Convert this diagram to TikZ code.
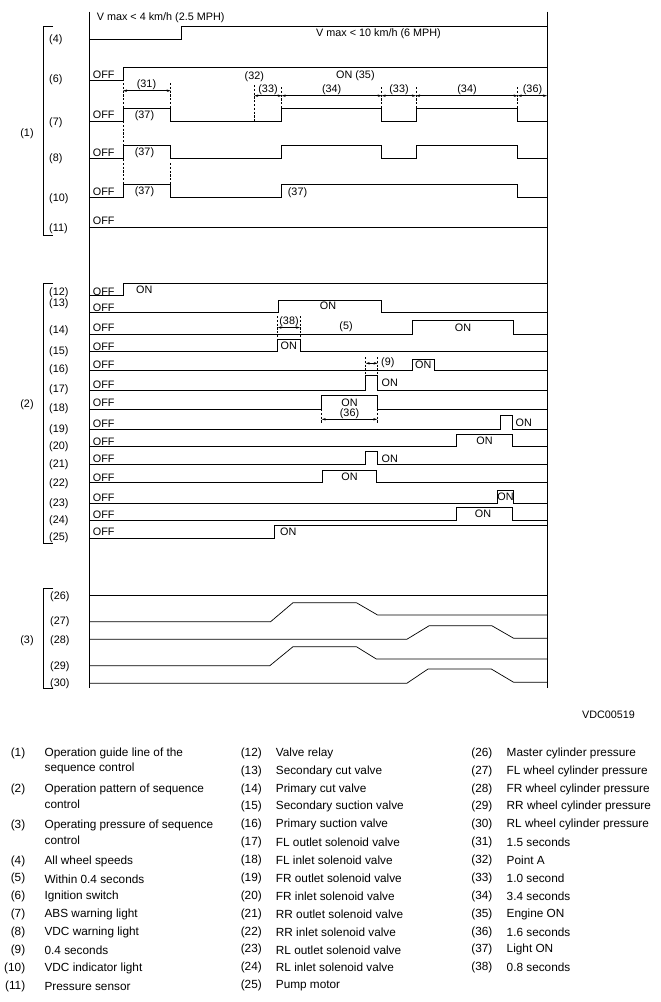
\documentclass[tikz,border=0pt]{standalone}
\usepackage{fontspec}
\setmainfont{Liberation Sans}
\usetikzlibrary{arrows.meta}
\tikzset{
wave/.style={line width=0.7pt, line join=miter}, % signal traces
frame/.style={line width=0.9pt}, % time borders and brackets
guide/.style={dash pattern=on 2.2pt off 1.6pt, line width=0.6pt}, % dashed timing marks
dim/.style={<->, >={Stealth[length=4pt,width=2.4pt]}, line width=0.5pt}, % durations
lbl/.style={font=\fontsize{10.8}{12}\selectfont, inner sep=0pt}, % chart texts
key/.style={font=\fontsize{11.8}{14}\selectfont, inner sep=0pt}, % legend texts
}

\begin{document}
\begin{tikzpicture}[x=1pt, y=-1pt]
\useasboundingbox (0,0) rectangle (661,1002);

% time borders
\draw[frame] (89,11.7) -- (89,688.3);
\draw[frame] (547,11.7) -- (547,688.3);

% group brackets
\draw[frame] (53,26.7) -| (43.3,235) -- (53,235);
\draw[frame] (53,283.3) -| (43.3,543.3) -- (53,543.3);
\draw[frame] (53,588.3) -| (43.3,688.3) -- (53,688.3);
\node[lbl] (g1) at (27,133.3) {(1)};
\node[lbl] (g2) at (27,405) {(2)};
\node[lbl] (g3) at (27,641) {(3)};

% row numbers
\foreach \r/\y in {4/40,6/80,7/123,8/159,10/199,11/229,
  12/292.3,13/304,14/330.7,15/351.7,16/370,17/389.3,18/408.3,
  19/429.3,20/446.7,21/465,22/483.3,23/503.3,24/520.7,25/537.3}
  \node[lbl, anchor=west] (r\r) at (49,\y) {(\r)};
\foreach \r/\y in {26/596.7,27/621.7,28/641,29/666.7,30/683.3}
  \node[lbl, anchor=west] (r\r) at (50,\y) {(\r)};

% OFF marks
\foreach \r/\y in {6/75,7/115,8/152.7,10/191.7,11/221,
  12/291.7,13/307.3,14/327.3,15/346.7,16/365,17/385,18/402.7,
  19/423.3,20/441.7,21/458.3,22/477.3,23/497.3,24/514.3,25/531.7}
  \node[lbl, anchor=west] (off\r) at (92.7,\y) {OFF};

% (4) all wheel speeds
\draw[wave] (89,39) -- (181,39) -- (181,26) -- (547,26);
\node[lbl, anchor=west] (vlow) at (96.7,18) {V max < 4 km/h (2.5 MPH)};
\node[lbl, anchor=west] (vhigh) at (316,33.3) {V max < 10 km/h (6 MPH)};

% (6) ignition switch
\draw[wave] (89,80) -- (123,80) -- (123,67.7) -- (547,67.7);
\node[lbl, anchor=west] (on35) at (336,76) {ON (35)};

% (7) (8) (10) (11) lights and sensor
\draw[wave] (89,121.7) -- (123,121.7) -- (123,108.3) -- (170.7,108.3) -- (170.7,121.7)
  -- (281.7,121.7) -- (281.7,108.3) -- (381.7,108.3) -- (381.7,121.7) -- (416,121.7)
  -- (416,108.3) -- (517.7,108.3) -- (517.7,121.7) -- (547,121.7);
\draw[wave] (89,158.3) -- (123,158.3) -- (123,145.7) -- (170.7,145.7) -- (170.7,158.3)
  -- (281.7,158.3) -- (281.7,145.7) -- (381.7,145.7) -- (381.7,158.3) -- (416,158.3)
  -- (416,145.7) -- (517.7,145.7) -- (517.7,158.3) -- (547,158.3);
\draw[wave] (89,197.3) -- (123,197.3) -- (123,184.3) -- (170.7,184.3) -- (170.7,197.3)
  -- (281.7,197.3) -- (281.7,184.3) -- (517.7,184.3) -- (517.7,197.3) -- (547,197.3);
\draw[wave] (89,227.7) -- (547,227.7);
\node[lbl] (l7) at (144.5,116) {(37)};
\node[lbl] (l8) at (144.5,152.7) {(37)};
\node[lbl] (l10) at (144.5,192) {(37)};
\node[lbl] (l10b) at (297.5,192.3) {(37)};

% timing marks
\draw[guide] (123,83) -- (123,184.3);
\draw[guide] (170.7,83) -- (170.7,108.3);
\draw[guide] (170.7,163) -- (170.7,184.3);
\draw[guide] (254.3,85) -- (254.3,121.7);
\foreach \x in {281.7,381.7,416,517.7}
  \draw[guide] (\x,87) -- (\x,108.3);
\node[lbl] (pa) at (254.3,77) {(32)};

\coordinate (d0) at (123,90.7);
\coordinate (d1) at (170.7,90.7);
\draw[dim] (d0) -- (d1);
\node[lbl] (t31) at (146.5,85) {(31)};
\coordinate (e0) at (254.3,95.7);
\coordinate (e1) at (281.7,95.7);
\coordinate (e2) at (381.7,95.7);
\coordinate (e3) at (416,95.7);
\coordinate (e4) at (517.7,95.7);
\coordinate (e5) at (547,95.7);
\draw[dim] (e0) -- (e1);
\draw[dim] (e1) -- (e2);
\draw[dim] (e2) -- (e3);
\draw[dim] (e3) -- (e4);
\draw[dim] (e4) -- (e5);
\node[lbl] (t33) at (268,89.3) {(33)};
\node[lbl] (t34) at (331.7,89.3) {(34)};
\node[lbl] (t33b) at (399,89.3) {(33)};
\node[lbl] (t34b) at (467,89.3) {(34)};
\node[lbl] (t36) at (532.5,89.3) {(36)};

% (12)-(25) valves and motor
\draw[wave] (89,295.7) -- (123,295.7) -- (123,283.5) -- (547,283.5);
\node[lbl, anchor=west] (on12) at (136,290) {ON};
\draw[wave] (89,312.3) -- (278.3,312.3) -- (278.3,300) -- (381,300) -- (381,312.3) -- (547,312.3);
\node[lbl] (on13) at (328,306) {ON};
\draw[wave] (89,334) -- (412.3,334) -- (412.3,320.7) -- (513.3,320.7) -- (513.3,334) -- (547,334);
\node[lbl] (w5) at (346,326.7) {(5)};
\node[lbl] (on14) at (463,327.3) {ON};
\draw[guide] (277.7,316) -- (277.7,339);
\draw[guide] (300,316) -- (300,339);
\coordinate (f0) at (277.7,327.5);
\coordinate (f1) at (300,327.5);
\draw[dim] (f0) -- (f1);
\node[lbl] (t38) at (289,321.2) {(38)};
\draw[wave] (89,351.7) -- (277.7,351.7) -- (277.7,339) -- (300,339) -- (300,351.7) -- (547,351.7);
\node[lbl] (on15) at (288.8,346) {ON};
\draw[wave] (89,370.7) -- (412.3,370.7) -- (412.3,359.3) -- (434.3,359.3) -- (434.3,370.7) -- (547,370.7);
\node[lbl] (on16) at (423.3,365) {ON};
\draw[guide] (365.7,357) -- (365.7,375.3);
\draw[guide] (377.7,357) -- (377.7,375.3);
\coordinate (h0) at (365.7,363.3);
\coordinate (h1) at (377.7,363.3);
\draw[dim] (h0) -- (h1);
\node[lbl, anchor=west] (t9) at (381,362.7) {(9)};
\draw[wave] (89,390) -- (365.7,390) -- (365.7,375.3) -- (377.7,375.3) -- (377.7,390) -- (547,390);
\node[lbl, anchor=west] (on17) at (381.5,383) {ON};
\draw[wave] (89,409) -- (321.7,409) -- (321.7,395.7) -- (377.3,395.7) -- (377.3,409) -- (547,409);
\node[lbl] (on18) at (349.5,402.5) {ON};
\draw[guide] (321.7,409) -- (321.7,423);
\draw[guide] (377.3,409) -- (377.3,423);
\coordinate (m0) at (321.7,419.3);
\coordinate (m1) at (377.3,419.3);
\draw[dim] (m0) -- (m1);
\node[lbl] (t36b) at (349.5,413.3) {(36)};
\draw[wave] (89,429.3) -- (500.7,429.3) -- (500.7,415.7) -- (512.3,415.7) -- (512.3,429.3) -- (547,429.3);
\node[lbl, anchor=west] (on19) at (515.5,422.5) {ON};
\draw[wave] (89,446.7) -- (456,446.7) -- (456,434) -- (512.3,434) -- (512.3,446.7) -- (547,446.7);
\node[lbl] (on20) at (484.5,441) {ON};
\draw[wave] (89,464.3) -- (365.7,464.3) -- (365.7,451.7) -- (377,451.7) -- (377,464.3) -- (547,464.3);
\node[lbl, anchor=west] (on21) at (381.5,458.3) {ON};
\draw[wave] (89,482.5) -- (322.3,482.5) -- (322.3,470) -- (376.7,470) -- (376.7,482.5) -- (547,482.5);
\node[lbl] (on22) at (349.5,476.7) {ON};
\draw[wave] (89,503) -- (497.3,503) -- (497.3,490.3) -- (513.3,490.3) -- (513.3,503) -- (547,503);
\node[lbl] (on23) at (505.5,497) {ON};
\draw[wave] (89,520.7) -- (456,520.7) -- (456,507.3) -- (512.3,507.3) -- (512.3,520.7) -- (547,520.7);
\node[lbl] (on24) at (483,514) {ON};
\draw[wave] (89,538.3) -- (274.3,538.3) -- (274.3,525) -- (547,525);
\node[lbl, anchor=west] (on25) at (280,531.7) {ON};

% (26)-(30) pressures
\draw[wave] (89,595) -- (547,595);
\draw[wave] (89,621.7) -- (270.6,621.7) -- (293,602.7) -- (356.4,602.7) -- (377.6,615) -- (547,615);
\draw[wave] (89,639.3) -- (406.8,639.3) -- (429.2,625.7) -- (491.8,625.7) -- (513.7,638.3) -- (547,638.3);
\draw[wave] (89,665.7) -- (269.8,665.7) -- (293,646.7) -- (356.4,646.7) -- (376.3,659) -- (547,659);
\draw[wave] (89,683.3) -- (406.8,683.3) -- (428,669) -- (491.3,669) -- (513.7,682.3) -- (547,682.3);

\node[lbl] (code) at (608.5,715) {VDC00519};

% legend
\foreach \n/\y/\txt in {1/753.3/Operation guide line of the,
  2/789.3/Operation pattern of sequence,
  3/825.3/Operating pressure of sequence,
  4/861/All wheel speeds, 5/878.9/Within 0.4 seconds,
  6/896.7/Ignition switch, 7/914.6/ABS warning light,
  8/932.5/VDC warning light, 9/950.3/0.4 seconds,
  10/968.2/VDC indicator light, 11/986/Pressure sensor}
{
  \node[key, anchor=east] (kn\n) at (25.4,\y) {(\n)};
  \node[key, anchor=west] (k\n) at (44.4,\y) {\txt};
}
\node[key, anchor=west] (k1b) at (44.4,768.3) {sequence control};
\node[key, anchor=west] (k2b) at (44.4,804.3) {control};
\node[key, anchor=west] (k3b) at (44.4,840) {control};

\foreach \n/\txt [evaluate=\n as \y using 753.3+17.87*(\n-12)] in
  {12/Valve relay, 13/Secondary cut valve, 14/Primary cut valve,
  15/Secondary suction valve, 16/Primary suction valve,
  17/FL outlet solenoid valve, 18/FL inlet solenoid valve,
  19/FR outlet solenoid valve, 20/FR inlet solenoid valve,
  21/RR outlet solenoid valve, 22/RR inlet solenoid valve,
  23/RL outlet solenoid valve, 24/RL inlet solenoid valve, 25/Pump motor}
{
  \node[key, anchor=east] (kn\n) at (262,\y) {(\n)};
  \node[key, anchor=west] (k\n) at (275.7,\y) {\txt};
}

\foreach \n/\txt [evaluate=\n as \y using 753.3+17.87*(\n-26)] in
  {26/Master cylinder pressure, 27/FL wheel cylinder pressure,
  28/FR wheel cylinder pressure, 29/RR wheel cylinder pressure,
  30/RL wheel cylinder pressure, 31/1.5 seconds, 32/Point A,
  33/1.0 second, 34/3.4 seconds, 35/Engine ON, 36/1.6 seconds,
  37/Light ON, 38/0.8 seconds}
{
  \node[key, anchor=east] (kn\n) at (492.6,\y) {(\n)};
  \node[key, anchor=west] (k\n) at (506.5,\y) {\txt};
}
\end{tikzpicture}
\end{document}
